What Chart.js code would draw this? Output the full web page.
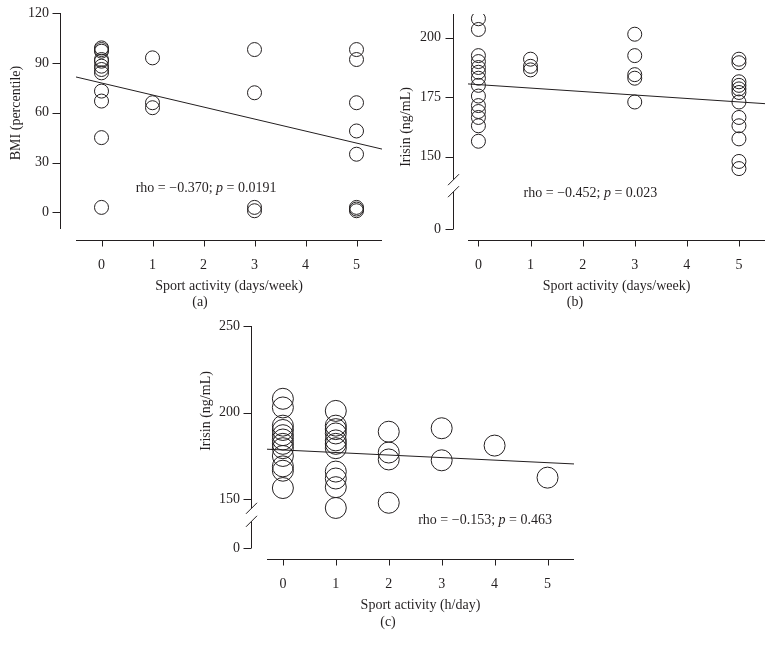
<!DOCTYPE html>
<html>
<head>
<meta charset="utf-8">
<script src="https://cdn.jsdelivr.net/npm/chart.js@4.4.1/dist/chart.umd.min.js"></script>
<style>
  body { margin: 0; background: #fff; }
  canvas { position: absolute; }
</style>
</head>
<body>
<canvas id="chartA" width="390" height="320" style="left:0;top:0"></canvas>
<canvas id="chartB" width="389" height="320" style="left:385px;top:0"></canvas>
<canvas id="chartC" width="410" height="340" style="left:190px;top:300px"></canvas>
<script>
// (a) BMI percentile vs sport activity (days/week)
var bmiDays0 = [99, 98, 97, 92, 91, 88, 86, 84, 73, 67, 45, 3];
var bmiDays1 = [93, 66, 63];
var bmiDays3 = [98, 72, 3, 1];
var bmiDays5 = [98, 92, 66, 49, 35, 3, 2, 1];
var bmiFitX = [-0.5, 5.5];
var bmiFitY = [81.5, 38.1];

// (b) irisin vs sport activity (days/week)
var irisinDays0 = [208, 203.5, 192.5, 190, 187.5, 185.5, 183, 180, 175.5, 171.5, 169, 166.5, 163, 156.5];
var irisinDays1 = [191, 188, 186.5];
var irisinDays3 = [201.5, 192.5, 184.5, 183, 173];
var irisinDays5 = [191, 189.5, 181.5, 180, 178.5, 177, 173, 166.5, 163, 157.5, 148, 145];
var irisinDaysFitX = [-0.2, 5.5];
var irisinDaysFitY = [180.6, 172.3];

// (c) irisin vs sport activity (h/day)
var irisinHours0 = [208, 203, 192.5, 190, 187, 184.5, 182, 179.5, 175, 169, 166.5, 156.5];
var irisinHours1 = [201, 192.5, 190.5, 188, 184, 182, 179.5, 166, 162, 157, 145];
var irisinHours2 = [189, 177, 173, 148];
var irisinHours3 = [191, 172.5];
var irisinHours4 = [181];
var irisinHours5 = [162.5];
var irisinHoursFitX = [-0.3, 5.5];
var irisinHoursFitY = [178.9, 170.4];

var activityTicks = [0, 1, 2, 3, 4, 5];
var bmiTicks = [0, 30, 60, 90, 120];
var irisinTicksB = [150, 175, 200];
var irisinTicksC = [150, 200, 250];
// value where the broken irisin axes show "0"
var irisinZeroB = 119.6;
var irisinZeroC = 121.9;

var ink = '#231f20';
var serif = "'Liberation Serif', 'DejaVu Serif', serif";

function pts(x, ys) {
    return ys.map(function (y) { return { x: x, y: y }; });
}
function fitLine(xs, ys) {
    return xs.map(function (x, i) { return { x: x, y: ys[i] }; });
}
function tickList(values) {
    return function (scale) {
        scale.ticks = values.map(function (v) { return { value: v }; });
    };
}

// draws the detached axes, the axis break, y title, the rho note and panel label
var offsetAxes = {
    id: 'offsetAxes',
    afterDraw: function (chart, args, o) {
        var ctx = chart.ctx, area = chart.chartArea;
        var xs = chart.scales.x, ys = chart.scales.y;
        var ax = Math.round(area.left - o.yGap) + 0.5;
        var ay = Math.round(area.bottom + o.xGap) + 0.5;
        ctx.save();
        ctx.strokeStyle = ink;
        ctx.lineWidth = 1;
        ctx.beginPath();
        if (o.breakFrom) {
            var b0 = ys.getPixelForValue(o.breakFrom);
            var s1 = b0 + o.breakOffsets[0], s2 = b0 + o.breakOffsets[1];
            ctx.moveTo(ax, area.top); ctx.lineTo(ax, s1);
            ctx.moveTo(ax, s2); ctx.lineTo(ax, area.bottom);
            [s1, s2].forEach(function (s) {
                ctx.moveTo(ax - 5.5, s + 5.5); ctx.lineTo(ax + 5.5, s - 5.5);
            });
        } else {
            ctx.moveTo(ax, area.top); ctx.lineTo(ax, area.bottom);
        }
        ys.ticks.forEach(function (t) {
            var p = Math.round(ys.getPixelForValue(t.value)) + 0.5;
            ctx.moveTo(ax - 8, p); ctx.lineTo(ax, p);
        });
        ctx.moveTo(area.left, ay); ctx.lineTo(area.right, ay);
        xs.ticks.forEach(function (t) {
            var p = Math.round(xs.getPixelForValue(t.value)) + 0.5;
            ctx.moveTo(p, ay); ctx.lineTo(p, ay + 6);
        });
        ctx.stroke();

        ctx.fillStyle = ink;
        ctx.textBaseline = 'middle';
        var plain = '14px ' + serif, ital = 'italic 14px ' + serif;
        var parts = [[o.note[0], plain], ['p', ital], [o.note[1], plain]];
        var w = 0;
        parts.forEach(function (pt) { ctx.font = pt[1]; w += ctx.measureText(pt[0]).width; });
        var nx = xs.getPixelForValue(o.notePos[0]) - w / 2;
        var ny = ys.getPixelForValue(o.notePos[1]);
        ctx.textAlign = 'left';
        parts.forEach(function (pt) {
            ctx.font = pt[1];
            ctx.fillText(pt[0], nx, ny);
            nx += ctx.measureText(pt[0]).width;
        });
        ctx.font = plain;
        ctx.textAlign = 'center';
        ctx.fillText(o.label, o.labelPos[0], o.labelPos[1]);

        ctx.translate(o.yTitlePos[0], o.yTitlePos[1]);
        ctx.rotate(-Math.PI / 2);
        ctx.fillText(o.yTitle, 0, 0);
        ctx.restore();
    }
};

function makeChart(id, s) {
    var font = { family: serif, size: 14 };
    return new Chart(document.getElementById(id), {
        type: 'scatter',
        data: {
            datasets: [{
                data: s.points,
                pointRadius: s.radius,
                pointHoverRadius: s.radius,
                pointBorderWidth: 1,
                borderColor: ink,
                backgroundColor: 'rgba(255,255,255,0)'
            }, {
                type: 'line',
                data: s.fit,
                borderColor: ink,
                borderWidth: 1,
                pointRadius: 0,
                fill: false
            }]
        },
        options: {
            responsive: false,
            animation: false,
            devicePixelRatio: 1,
            layout: { padding: s.padding },
            plugins: {
                legend: { display: false },
                tooltip: { enabled: false },
                offsetAxes: s.extra
            },
            scales: {
                x: {
                    type: 'linear',
                    min: s.xMin,
                    max: 5.5,
                    afterBuildTicks: tickList(activityTicks),
                    afterFit: function (sc) {
                        sc.height = s.xHeight;
                        sc.paddingLeft = 0; sc.paddingRight = 0;
                    },
                    grid: { display: false, drawTicks: false },
                    border: { display: false },
                    ticks: { color: ink, font: font, padding: 28, autoSkip: false, maxRotation: 0 },
                    title: { display: true, text: s.xTitle, color: ink, font: font, padding: { top: 0, bottom: s.xTitlePad } }
                },
                y: {
                    type: 'linear',
                    min: s.yMin,
                    max: s.yMax,
                    afterBuildTicks: tickList(s.yTicks),
                    afterFit: function (sc) {
                        sc.width = s.yWidth;
                        sc.paddingTop = 0; sc.paddingBottom = 0;
                    },
                    grid: { display: false, drawTicks: false },
                    border: { display: false },
                    ticks: {
                        color: ink, font: font, padding: 27, autoSkip: false,
                        callback: function (v) { return v === s.zero ? '0' : v; }
                    },
                    title: { display: false }
                }
            }
        },
        plugins: [offsetAxes]
    });
}

makeChart('chartA', {
    points: [].concat(pts(0, bmiDays0), pts(1, bmiDays1), pts(3, bmiDays3), pts(5, bmiDays5)),
    fit: fitLine(bmiFitX, bmiFitY),
    radius: 7,
    padding: { top: 13, right: 7, left: 0, bottom: 0 },
    xMin: -0.5, xHeight: 91, xTitle: 'Sport activity (days/week)', xTitlePad: 25,
    yMin: -10, yMax: 120, yTicks: bmiTicks, yWidth: 76,
    zero: null,
    extra: {
        yGap: 16, xGap: 11, note: ['rho = \u22120.370; ', ' = 0.0191'], notePos: [2.05, 14.6],
        label: '(a)', labelPos: [200, 302], yTitle: 'BMI (percentile)', yTitlePos: [16, 113]
    }
});

makeChart('chartB', {
    points: [].concat(pts(0, irisinDays0), pts(1, irisinDays1), pts(3, irisinDays3), pts(5, irisinDays5)),
    fit: fitLine(irisinDaysFitX, irisinDaysFitY),
    radius: 7,
    padding: { top: 14, right: 9, left: 0, bottom: 0 },
    xMin: -0.2, xHeight: 91, xTitle: 'Sport activity (days/week)', xTitlePad: 25,
    yMin: irisinZeroB, yMax: 210, yTicks: [irisinZeroB].concat(irisinTicksB), yWidth: 83,
    zero: irisinZeroB,
    extra: {
        yGap: 15, xGap: 11, breakFrom: 150, breakOffsets: [23, 35], note: ['rho = \u22120.452; ', ' = 0.023'], notePos: [2.15, 134.8],
        label: '(b)', labelPos: [190, 302], yTitle: 'Irisin (ng/mL)', yTitlePos: [21, 127]
    }
});

makeChart('chartC', {
    points: [].concat(pts(0, irisinHours0), pts(1, irisinHours1), pts(2, irisinHours2), pts(3, irisinHours3), pts(4, irisinHours4), pts(5, irisinHours5)),
    fit: fitLine(irisinHoursFitX, irisinHoursFitY),
    radius: 10.5,
    padding: { top: 26, right: 26, left: 0, bottom: 0 },
    xMin: -0.3, xHeight: 92, xTitle: 'Sport activity (h/day)', xTitlePad: 26,
    yMin: irisinZeroC, yMax: 250, yTicks: [irisinZeroC].concat(irisinTicksC), yWidth: 77,
    zero: irisinZeroC,
    extra: {
        yGap: 16, xGap: 11, breakFrom: 150, breakOffsets: [9, 22], note: ['rho = \u22120.153; ', ' = 0.463'], notePos: [3.82, 138.1],
        label: '(c)', labelPos: [198, 322], yTitle: 'Irisin (ng/mL)', yTitlePos: [16, 111]
    }
});
</script>
</body>
</html>
